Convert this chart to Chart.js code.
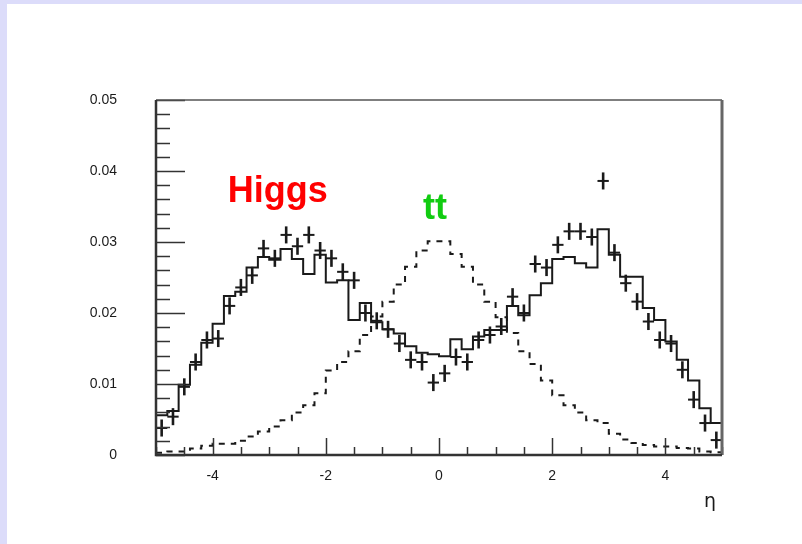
<!DOCTYPE html>
<html>
<head>
<meta charset="utf-8">
<title>eta distribution</title>
<script src="https://cdn.jsdelivr.net/npm/chart.js@4.4.0/dist/chart.umd.min.js"></script>
<style>
    html, body { margin: 0; padding: 0; }
    body { width: 802px; height: 544px; background: #dcdcfa; position: relative; overflow: hidden; }
    #page { position: absolute; left: 7px; top: 4px; right: 0; bottom: 0; background: #fff; }
    #wrap { position: absolute; left: 0; top: 0; width: 802px; height: 544px; }
</style>
</head>
<body>
<div id="page"></div>
<div id="wrap"><canvas id="eta-chart" width="802" height="544"></canvas></div>
<script>
// pseudorapidity bins (width 0.2) from -5 to 5
const binWidth = 0.2;
const binCenters = [
    -4.9, -4.7, -4.5, -4.3, -4.1, -3.9, -3.7, -3.5, -3.3, -3.1,
    -2.9, -2.7, -2.5, -2.3, -2.1, -1.9, -1.7, -1.5, -1.3, -1.1,
    -0.9, -0.7, -0.5, -0.3, -0.1, 0.1, 0.3, 0.5, 0.7, 0.9,
    1.1, 1.3, 1.5, 1.7, 1.9, 2.1, 2.3, 2.5, 2.7, 2.9,
    3.1, 3.3, 3.5, 3.7, 3.9, 4.1, 4.3, 4.5, 4.7, 4.9
];

// Higgs signal, solid histogram
const higgsHist = [
    0.0056, 0.0062, 0.0099, 0.0127, 0.0158, 0.0185, 0.0224, 0.0230, 0.0264, 0.0279,
    0.0275, 0.0290, 0.0276, 0.0255, 0.0282, 0.0243, 0.0246, 0.0190, 0.0214, 0.0187,
    0.0177, 0.0171, 0.0153, 0.0144, 0.0142, 0.0139, 0.0163, 0.0149, 0.0167, 0.0176,
    0.0176, 0.0210, 0.0197, 0.0225, 0.0242, 0.0276, 0.0279, 0.0270, 0.0264, 0.0318,
    0.0282, 0.0251, 0.0251, 0.0207, 0.0190, 0.0160, 0.0134, 0.0105, 0.0066, 0.0045
];

// Higgs sample with error crosses
const higgsPoints = [
    0.0038, 0.0054, 0.0096, 0.0131, 0.0162, 0.0164, 0.0210, 0.0236, 0.0253, 0.0291,
    0.0277, 0.0310, 0.0294, 0.0310, 0.0288, 0.0277, 0.0258, 0.0246, 0.0200, 0.0189,
    0.0177, 0.0157, 0.0134, 0.0131, 0.0102, 0.0115, 0.0138, 0.0131, 0.0162, 0.0169,
    0.0181, 0.0223, 0.0200, 0.0269, 0.0264, 0.0296, 0.0315, 0.0315, 0.0307, 0.0386,
    0.0285, 0.0242, 0.0216, 0.0188, 0.0162, 0.0157, 0.0120, 0.0078, 0.0045, 0.0021
];
const pointErr = 0.0012;

// ttbar background, dashed histogram
const ttHist = [
    0.0003, 0.0005, 0.0005, 0.0009, 0.0013, 0.0016, 0.0016, 0.0020, 0.0026, 0.0033,
    0.0040, 0.0049, 0.0060, 0.0070, 0.0087, 0.0119, 0.0131, 0.0146, 0.0169, 0.0195,
    0.0216, 0.0240, 0.0265, 0.0288, 0.0301, 0.0301, 0.0283, 0.0265, 0.0240, 0.0216,
    0.0194, 0.0172, 0.0146, 0.0128, 0.0105, 0.0084, 0.0070, 0.0060, 0.0049, 0.0045,
    0.0030, 0.0022, 0.0017, 0.0014, 0.0012, 0.0012, 0.0010, 0.0009, 0.0005, 0.0004
];

const xTickValues = [-4, -2, 0, 2, 4];
const xTickLabels = ['-4', '-2', '0', '2', '4'];
const yTickValues = [0, 0.01, 0.02, 0.03, 0.04, 0.05];
const yTickLabels = ['0', '0.01', '0.02', '0.03', '0.04', '0.05'];

const FONT = '"Liberation Sans", Arial, Helvetica, sans-serif';
const INK = '#1a1a1a';

// step outline: one point per left bin edge plus the closing right edge
function toSteps(values) {
    const pts = values.map((v, i) => ({ x: binCenters[i] - binWidth / 2, y: v }));
    const last = values.length - 1;
    pts.push({ x: binCenters[last] + binWidth / 2, y: values[last] });
    return pts;
}

// crosses: horizontal bar = bin width, vertical bar = statistical error
const errorCrosses = {
    id: 'errorCrosses',
    afterDatasetsDraw(chart) {
        const { ctx, scales: { x, y } } = chart;
        ctx.save();
        ctx.strokeStyle = INK;
        ctx.lineCap = 'butt';
        higgsPoints.forEach((v, i) => {
            const c = binCenters[i];
            const px = x.getPixelForValue(c);
            const py = y.getPixelForValue(v);
            ctx.lineWidth = 2.6;
            ctx.beginPath();
            ctx.moveTo(px, y.getPixelForValue(v + pointErr));
            ctx.lineTo(px, y.getPixelForValue(v - pointErr));
            ctx.stroke();
            ctx.lineWidth = 2;
            ctx.beginPath();
            ctx.moveTo(x.getPixelForValue(c - binWidth / 2), py);
            ctx.lineTo(x.getPixelForValue(c + binWidth / 2), py);
            ctx.stroke();
        });
        ctx.restore();
    }
};

// frame with inward ticks, plus the labels
const frameAndTicks = {
    id: 'frameAndTicks',
    afterDraw(chart) {
        const { ctx, chartArea: a, scales: { x, y } } = chart;
        ctx.save();

        // y ticks: major every 0.01, minor every 0.002
        ctx.strokeStyle = '#333';
        ctx.lineWidth = 1.5;
        for (let k = 0; k <= 25; k++) {
            const py = Math.round(y.getPixelForValue(k * 0.002)) + 0.5;
            const len = k % 5 === 0 ? 29 : 14;
            ctx.beginPath();
            ctx.moveTo(a.left, py);
            ctx.lineTo(a.left + len, py);
            ctx.stroke();
        }
        // x ticks: major every 2, minor every 0.5
        for (let k = -10; k <= 10; k++) {
            const px = Math.round(x.getPixelForValue(k * 0.5)) + 0.5;
            const len = k % 4 === 0 ? 17 : 8;
            ctx.beginPath();
            ctx.moveTo(px, a.bottom);
            ctx.lineTo(px, a.bottom - len);
            ctx.stroke();
        }

        // frame
        ctx.strokeStyle = '#555';
        ctx.lineWidth = 1.5;
        ctx.beginPath();
        ctx.moveTo(a.left, a.top);
        ctx.lineTo(a.right, a.top);
        ctx.stroke();
        ctx.strokeStyle = '#666';
        ctx.lineWidth = 3;
        ctx.beginPath();
        ctx.moveTo(a.right, a.top);
        ctx.lineTo(a.right, a.bottom);
        ctx.stroke();
        ctx.strokeStyle = '#333';
        ctx.lineWidth = 2.5;
        ctx.beginPath();
        ctx.moveTo(a.left, a.top);
        ctx.lineTo(a.left, a.bottom);
        ctx.lineTo(a.right, a.bottom);
        ctx.stroke();

        // sample labels
        ctx.font = 'bold 36px ' + FONT;
        ctx.textAlign = 'center';
        ctx.textBaseline = 'alphabetic';
        ctx.fillStyle = '#ff0000';
        ctx.fillText('Higgs', x.getPixelForValue(-2.85), y.getPixelForValue(0.0357));
        ctx.fillStyle = '#11cc11';
        ctx.fillText('tt', x.getPixelForValue(-0.07), y.getPixelForValue(0.0333));

        // axis title
        ctx.fillStyle = INK;
        ctx.font = '19px "DejaVu Sans", ' + FONT;
        ctx.fillText('\u03b7', a.right - 12, a.bottom + 52);
        ctx.restore();
    }
};

const ctx = document.getElementById('eta-chart').getContext('2d');
new Chart(ctx, {
    type: 'line',
    data: {
        datasets: [
            {
                label: 'Higgs',
                data: toSteps(higgsHist),
                stepped: 'before',
                borderColor: INK,
                borderWidth: 2,
                pointRadius: 0,
                fill: false
            },
            {
                label: 'tt',
                data: toSteps(ttHist),
                stepped: 'before',
                borderColor: INK,
                borderWidth: 2,
                borderDash: [6, 6],
                pointRadius: 0,
                fill: false
            }
        ]
    },
    options: {
        responsive: false,
        animation: false,
        layout: { padding: { left: 0, right: 80, top: 100, bottom: 0 } },
        plugins: {
            legend: { display: false },
            tooltip: { enabled: false }
        },
        scales: {
            x: {
                type: 'linear',
                min: -5,
                max: 5,
                afterBuildTicks: scale => { scale.ticks = xTickValues.map(v => ({ value: v })); },
                afterFit: scale => { scale.height = 89; },
                grid: { display: false, drawTicks: false },
                border: { display: false },
                ticks: {
                    padding: 13,
                    color: INK,
                    font: { family: FONT, size: 14 },
                    maxRotation: 0,
                    callback: v => xTickLabels[xTickValues.indexOf(v)]
                }
            },
            y: {
                type: 'linear',
                min: 0,
                max: 0.05,
                afterBuildTicks: scale => { scale.ticks = yTickValues.map(v => ({ value: v })); },
                afterFit: scale => { scale.width = 156; },
                grid: { display: false, drawTicks: false },
                border: { display: false },
                ticks: {
                    padding: 39,
                    color: INK,
                    font: { family: FONT, size: 14 },
                    callback: (v, i) => yTickLabels[i]
                }
            }
        }
    },
    plugins: [errorCrosses, frameAndTicks]
});
</script>
</body>
</html>
